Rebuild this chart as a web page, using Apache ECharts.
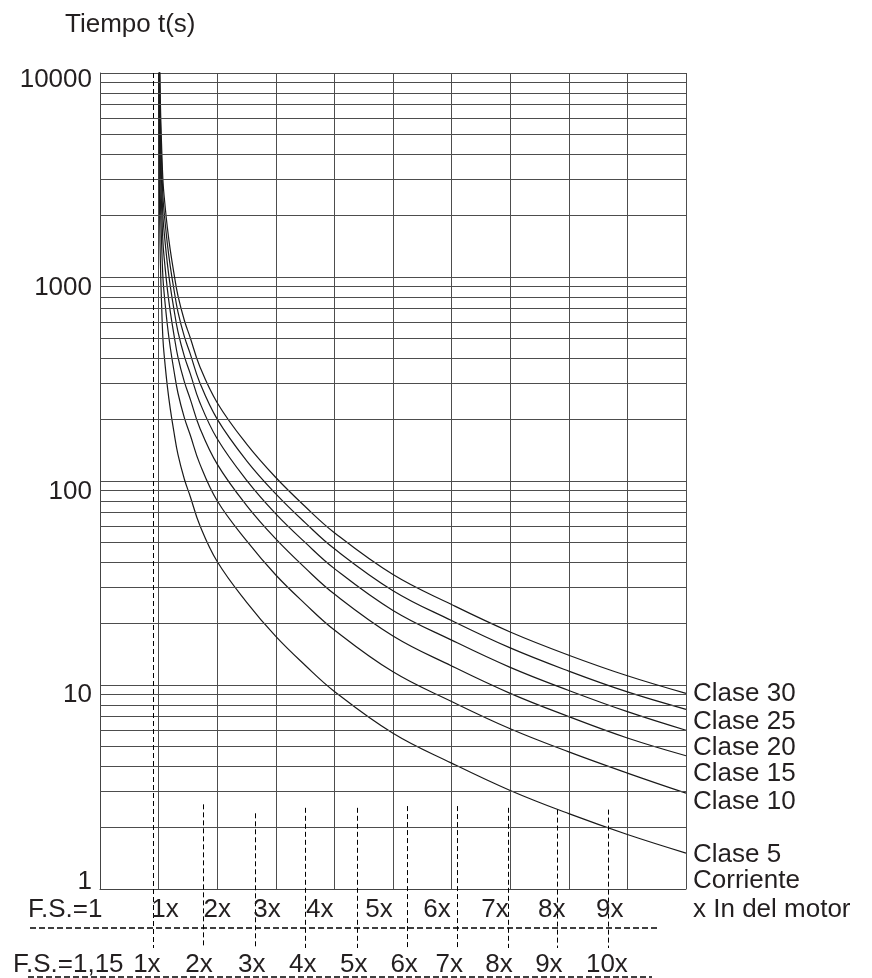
<!DOCTYPE html>
<html><head><meta charset="utf-8">
<script src="https://cdn.jsdelivr.net/npm/echarts@6/dist/echarts.min.js"></script>
<style>html,body{margin:0;padding:0;background:#fff}#c{width:872px;height:978px}</style>
</head><body><div id="c"></div>
<script>
// ---- data ----
const xs = [1.005, 1.01, 1.02, 1.03, 1.05, 1.075, 1.1, 1.15, 1.2, 1.26, 1.33, 1.44, 1.54, 1.7, 2, 2.5, 3, 3.5, 4, 5, 6, 7, 8, 9, 10];
const clase5  = [10000, 3500, 1800, 1200, 750, 491, 400, 290, 225, 175, 135, 102, 84, 61, 40.3, 25.5, 17.3, 12.5, 9.3, 5.8, 4.14, 3.04, 2.34, 1.85, 1.5];
const clase10 = [20000, 7000, 3600, 2400, 1500, 980, 800, 580, 450, 350, 270, 204, 168, 122, 80, 51, 34.6, 25, 18.6, 11.6, 8.3, 6.1, 4.7, 3.7, 2.95];
const clase15 = [30000, 10500, 5400, 3600, 2250, 1470, 1200, 870, 675, 525, 405, 306, 252, 183, 121, 76, 52, 37.5, 27.9, 17.4, 12.4, 9.1, 7.0, 5.5, 4.5];
const clase20 = [40000, 14000, 7200, 4800, 3000, 1960, 1600, 1160, 900, 700, 540, 408, 336, 244, 161, 101, 69, 50, 37.2, 23.2, 16.6, 12.2, 9.4, 7.4, 6.0];
const clase25 = [50000, 17500, 9000, 6000, 3750, 2450, 2000, 1450, 1125, 875, 675, 510, 420, 305, 201, 126, 86.5, 62.5, 46.5, 29, 20.7, 15.2, 11.7, 9.25, 7.6];
const clase30 = [60000, 21000, 10800, 7200, 4500, 2940, 2400, 1740, 1350, 1050, 810, 612, 504, 366, 242, 152, 104, 75, 55.8, 34.8, 24.8, 18.2, 14, 11.1, 9.1];
const classNames = ['Clase 5', 'Clase 10', 'Clase 15', 'Clase 20', 'Clase 25', 'Clase 30'];
const classLabelY = [1.47, 2.69, 3.66, 4.94, 6.62, 9.05];
const yTickValues = [1, 10, 100, 1000, 10000];
const yTickLabels = ['1', '10', '100', '1000', '10000'];
const minorY = [2,3,4,5,6,7,8,9,20,30,40,50,60,70,80,90,200,300,400,500,600,700,800,900,2000,3000,4000,5000,6000,7000,8000,9000];
const fs1Labels = ['1x','2x','3x','4x','5x','6x','7x','8x','9x'];
const fs1LabelX = [1.11, 2.0, 2.85, 3.75, 4.76, 5.75, 6.74, 7.71, 8.70];
const fs115Labels = ['1x','2x','3x','4x','5x','6x','7x','8x','9x','10x'];
const fs115LabelX = [0.80, 1.69, 2.59, 3.46, 4.33, 5.19, 5.96, 6.81, 7.66, 8.65];
const fs115LineX = [0.904, 1.758, 2.645, 3.498, 4.386, 5.239, 6.092, 6.962, 7.799, 8.669];
const fs115LineTop = [10000, 2.6, 2.35, 2.5, 2.5, 2.55, 2.55, 2.5, 2.45, 2.45];
const titleText = 'Tiempo t(s)';

// ---- styles ----
const FONT = '26px "Liberation Sans", Arial, sans-serif';
const TXT = '#231f20';
const GRID = '#4d4d4d';

const chart = echarts.init(document.getElementById('c'), null, {renderer: 'canvas'});
const classData = [clase5, clase10, clase15, clase20, clase25, clase30];
const series = classData.map((arr, i) => ({
  type: 'line', name: classNames[i],
  data: xs.map((x, j) => [x, arr[j]]),
  showSymbol: false, smooth: 0.4,
  lineStyle: {color: '#1a1a1a', width: 1.2},
  animation: false, silent: true, z: 3
}));
series[0].markLine = {
  silent: true, symbol: ['none', 'none'], animation: false,
  label: {show: false},
  lineStyle: {color: GRID, width: 1, type: 'solid'},
  data: minorY.map(v => ({yAxis: v}))
};

chart.setOption({
  animation: false,
  backgroundColor: '#fff',
  grid: {left: 100, top: 73, width: 586, height: 816},
  xAxis: {type: 'value', min: 0, max: 10, interval: 1,
    axisLabel: {show: false}, axisTick: {show: false},
    axisLine: {show: true, onZero: false, lineStyle: {color: '#444', width: 1}},
    splitLine: {show: true, lineStyle: {color: GRID, width: 1}}},
  yAxis: {type: 'log', logBase: 10, min: 1, max: 10000,
    axisLabel: {show: false}, axisTick: {show: false},
    axisLine: {show: true, lineStyle: {color: '#444', width: 1}},
    splitLine: {show: true, lineStyle: {color: GRID, width: 1}}},
  series: series
});

function px(x, y) { return chart.convertToPixel({gridIndex: 0}, [x, y]); }
function text(t, x, y, align) {
  return {type: 'text', x: x, y: y, silent: true, z: 10,
    style: {text: t, font: FONT, fill: TXT, textAlign: align || 'left', align: align || 'left',
      textVerticalAlign: 'middle', verticalAlign: 'middle'}};
}
const g = [];
const p0 = px(0, 1), pEnd = px(10, 1);
const bottomY = p0[1];
g.push(text(titleText, 65, 25, 'left'));
const yShift = [-7, 10, 11, 11, 7];
yTickValues.forEach((v, i) => {
  const p = px(0, v);
  g.push(text(yTickLabels[i], p[0] - 8, p[1] + yShift[i], 'right'));
});
classNames.forEach((n, i) => {
  const p = px(10, classLabelY[i]);
  g.push(text(n, p[0] + 7, p[1], 'left'));
});
g.push(text('Corriente', pEnd[0] + 7, bottomY - 8, 'left'));
g.push(text('x In del motor', pEnd[0] + 7, bottomY + 21, 'left'));
g.push(text('F.S.=1', 28, bottomY + 21, 'left'));
fs1Labels.forEach((l, i) => {
  const p = px(fs1LabelX[i], 1);
  g.push(text(l, p[0], bottomY + 21, 'center'));
});
g.push(text('F.S.=1,15', 13, bottomY + 76, 'left'));
fs115Labels.forEach((l, i) => {
  const p = px(fs115LabelX[i], 1);
  g.push(text(l, p[0], bottomY + 76, 'center'));
});
fs115LineX.forEach((x, i) => {
  const top = px(x, fs115LineTop[i]);
  g.push({type: 'line', silent: true, z: 5,
    shape: {x1: Math.round(top[0]) + 0.5, y1: top[1], x2: Math.round(top[0]) + 0.5, y2: bottomY + 59},
    style: {stroke: '#000', lineWidth: 1, lineDash: [5, 3]}});
});
g.push({type: 'line', silent: true, shape: {x1: 30, y1: bottomY + 39, x2: 657, y2: bottomY + 39},
  style: {stroke: '#000', lineWidth: 1.5, lineDash: [6, 3]}});
g.push({type: 'line', silent: true, shape: {x1: 28, y1: bottomY + 88, x2: 652, y2: bottomY + 88},
  style: {stroke: '#000', lineWidth: 1.5, lineDash: [6, 3]}});
chart.setOption({graphic: g});
</script></body></html>
